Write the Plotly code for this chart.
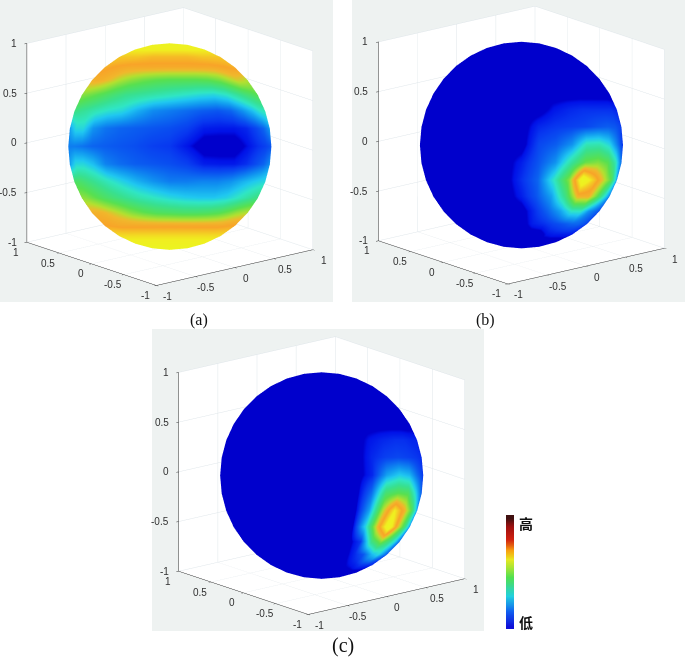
import numpy as np
import plotly.graph_objects as go

W, H = 685, 657
tick_vals = [-1, -0.5, 0, 0.5, 1]
tick_text = ["-1", "-0.5", "0", "0.5", "1"]

# view-aligned grid: rows by screen latitude, columns by screen longitude (degrees)
beta_deg = [90, 80, 70, 60, 50, 40, 30, 20, 10, 0, -10, -20, -30, -40, -50, -60, -70, -80, -90]
gamma_deg = [-90, -80, -70, -60, -50, -40, -30, -20, -10, 0, 10, 20, 30, 40, 50, 60, 70, 80, 90]

# panel (a): values, one row per beta
a_values = [
    [.92]*19,
    [.90]*19,
    [.86]*19,
    [.78, .78, .78, .78, .78, .78, .77, .76, .76, .76, .76, .76, .77, .78, .78, .78, .78, .78, .78],
    [.74, .74, .73, .72, .71, .70, .70, .70, .70, .70, .70, .70, .70, .70, .71, .72, .73, .74, .74],
    [.68, .68, .69, .68, .65, .60, .56, .53, .51, .50, .50, .50, .51, .54, .59, .63, .62, .60, .60],
    [.55, .55, .54, .52, .49, .45, .41, .39, .37, .35, .33, .31, .30, .33, .39, .44, .47, .49, .50],
    [.42, .42, .40, .38, .35, .32, .30, .24, .19, .17, .15, .13, .12, .14, .20, .26, .32, .34, .35],
    [.20, .24, .30, .30, .20, .16, .14, .13, .12, .11, .09, .05, .045, .045, .06, .10, .14, .19, .22],
    [.17, .17, .17, .16, .14, .13, .12, .11, .09, .08, .04, .00, .00, .00, .035, .07, .09, .11, .12],
    [.20, .24, .30, .30, .26, .18, .15, .13, .12, .11, .09, .05, .045, .045, .07, .11, .14, .18, .20],
    [.46, .47, .46, .43, .39, .34, .29, .24, .20, .17, .17, .18, .18, .20, .24, .27, .29, .30, .30],
    [.56, .56, .55, .52, .48, .44, .40, .36, .33, .30, .28, .27, .27, .29, .33, .37, .40, .42, .42],
    [.68, .68, .68, .67, .64, .60, .55, .51, .48, .47, .46, .46, .47, .49, .53, .57, .59, .60, .60],
    [.72, .72, .72, .71, .70, .70, .70, .70, .70, .70, .70, .70, .70, .70, .70, .71, .72, .72, .72],
    [.82]*19,
    [.88]*19,
    [.92]*19,
    [.92]*19,
]

# panels (b), (c): zero everywhere except these read-off hot patches
hot_betas = [20, 10, 0, -10, -20, -30, -40, -50, -60]
b_gammas = [-10, 0, 10, 20, 30, 40, 50, 60, 70, 80, 90]
b_hot = [
    [0, 0, 0, .04, .06, .07, .07, .07, .07, .06, .06],
    [0, 0, .06, .08, .09, .10, .12, .13, .12, .10, .08],
    [0, 0, .10, .13, .20, .35, .36, .30, .18, .10, .08],
    [0, .05, .12, .20, .38, .52, .55, .50, .36, .20, .15],
    [0, .07, .14, .33, .55, .95, .78, .62, .50, .30, .20],
    [0, .05, .12, .22, .42, .68, .68, .50, .33, .22, .18],
    [0, 0, .07, .14, .22, .33, .33, .20, .15, .12, .10],
    [0, 0, .05, .07, .10, .12, .14, .14, .12, .10, .08],
    [0, 0, 0, 0, .04, .05, .05, .05, .05, .04, .04],
]
c_gammas = [20, 30, 40, 50, 60, 70, 80, 90]
c_hot = [
    [0, .04, .06, .07, .07, .06, .06, .05],
    [0, .06, .09, .10, .09, .08, .07, .06],
    [0, .06, .22, .28, .25, .15, .10, .08],
    [0, .15, .45, .50, .48, .30, .17, .12],
    [0, .22, .60, .85, .68, .50, .30, .20],
    [0, .30, .68, .95, .65, .45, .28, .20],
    [0, .08, .42, .55, .42, .30, .18, .15],
    [0, .06, .12, .25, .30, .20, .14, .12],
    [0, .03, .05, .08, .08, .07, .06, .05],
]

surface_scale = [
    [0, "#0000cc"], [.025, "#0000cc"], [.035, "#0012e8"], [.08, "#0838f0"], [.12, "#0a58f0"],
    [.2, "#1094f0"], [.27, "#20c8f0"], [.33, "#30e6c4"], [.4, "#38e090"], [.5, "#58e050"],
    [.6, "#b4e030"], [.66, "#f0b82c"], [.72, "#f8a428"], [.85, "#f0ee20"], [1, "#e8fa20"],
]
bar_levels = [0, .05, .1, .15, .2, .25, .3, .35, .4, .45, .5, .55, .6, .65, .7, .75, .8, .85, .9, .95, 1]
bar_scale = [
    [0, "#1010d8"], [.14, "#1060f0"], [.28, "#20d0e0"], [.45, "#50e050"], [.62, "#e8e820"],
    [.7, "#f8a010"], [.8, "#d02010"], [.92, "#a01010"], [1, "#401010"],
]

eye_dir = np.array([-0.612, -0.74, 0.276])
EYE_DIST = 2.0
ASPECT = dict(x=1.345, y=1.345, z=1.37)
PANEL_BG = "#eef2f1"
TEXT = "#303030"
panels = [(0, 333, 0, 302), (352, 685, 0, 302), (152, 484, 329, 631)]
shifts = [(4.5, 6), (4, 8), (5, 6)]

e = eye_dir / np.linalg.norm(eye_dir)
r = np.cross([0, 0, 1], e); r = r / np.linalg.norm(r)
u = np.cross(e, r)

bb, gg = np.meshgrid(np.radians(beta_deg), np.radians(gamma_deg), indexing="ij")
su, sv, sw = np.cos(bb) * np.sin(gg), np.sin(bb), np.cos(bb) * np.cos(gg)
sx = su * r[0] + sv * u[0] + sw * e[0]
sy = su * r[1] + sv * u[1] + sw * e[1]
sz = su * r[2] + sv * u[2] + sw * e[2]


def with_patch(patch, gammas):
    z = np.zeros((len(beta_deg), len(gamma_deg)))
    for i, b in enumerate(hot_betas):
        for j, g in enumerate(gammas):
            z[beta_deg.index(b), gamma_deg.index(g)] = patch[i][j]
    return z


def tick_note(x, y, z, text, xshift, yshift, anchor="center"):
    return dict(x=x, y=y, z=z, text=text, showarrow=False, xanchor=anchor, yanchor="middle",
                xshift=xshift, yshift=yshift,
                font=dict(family="Liberation Sans", size=10, color=TEXT))


tick_notes = []
for v, t in zip(tick_vals, tick_text):
    tick_notes.append(tick_note(-1, 1, v, t, -8, 0, "right"))
    tick_notes.append(tick_note(-1, v, -1, t, -11, -10))
    tick_notes.append(tick_note(v, -1, -1, t, 11, -11))

fields = [np.array(a_values), with_patch(b_hot, b_gammas), with_patch(c_hot, c_gammas)]

fig = go.Figure()
layout = {}
for i, (field, (x0, x1, y0, y1), (dx, dy)) in enumerate(zip(fields, panels, shifts)):
    name = "scene" if i == 0 else f"scene{i + 1}"
    fig.add_trace(go.Surface(
        x=sx, y=sy, z=sz, surfacecolor=field, colorscale=surface_scale, cmin=0, cmax=1,
        showscale=False, hoverinfo="skip", scene=name,
        lighting=dict(ambient=1, diffuse=0, specular=0, roughness=1, fresnel=0),
    ))
    axis = dict(
        range=[-1, 1], tickvals=tick_vals, ticktext=tick_text, title=dict(text=""),
        showticklabels=False,
        showgrid=True, gridcolor="#dfe6ea", gridwidth=1, showline=True, linecolor=TEXT,
        linewidth=1, ticks="outside", ticklen=3, tickcolor=TEXT, showbackground=True,
        backgroundcolor="white", zeroline=False, showspikes=False, autorange=False,
    )
    center = -(dx * r + dy * u) / 204.0
    eye = center + e * EYE_DIST
    layout[name] = dict(
        domain=dict(x=[x0 / W, x1 / W], y=[1 - y1 / H, 1 - y0 / H]),
        bgcolor=PANEL_BG, aspectmode="manual", aspectratio=ASPECT,
        xaxis=axis, yaxis=axis, zaxis=axis, dragmode=False,
        annotations=tick_notes,
        camera=dict(projection=dict(type="orthographic"), up=dict(x=0, y=0, z=1),
                    center=dict(x=center[0], y=center[1], z=center[2]),
                    eye=dict(x=eye[0], y=eye[1], z=eye[2])),
    )

fig.add_trace(go.Heatmap(
    x=[0, 1], y=bar_levels, z=[[v, v] for v in bar_levels], zmin=0, zmax=1,
    colorscale=bar_scale, showscale=False, hoverinfo="skip", zsmooth="best",
    xaxis="x", yaxis="y",
))
layout["xaxis"] = dict(domain=[506 / W, 514 / W], visible=False, fixedrange=True)
layout["yaxis"] = dict(domain=[1 - 629 / H, 1 - 515 / H], visible=False, fixedrange=True)


def label(text, px, py, size, family="Liberation Serif", weight=None, color="#111111"):
    return dict(text=text if weight is None else f"<b>{text}</b>", x=px / W, y=1 - py / H,
                xref="paper", yref="paper", showarrow=False, xanchor="center", yanchor="middle",
                font=dict(family=family, size=size, color=color))


layout["annotations"] = [
    label("(a)", 199, 320, 16), label("(b)", 485, 320, 16), label("(c)", 343, 645, 20),
    label("高", 526, 523, 14, "Noto Sans CJK SC", True),
    label("低", 526, 622, 14, "Noto Sans CJK SC", True),
]
fig.update_layout(width=W, height=H, margin=dict(l=0, r=0, t=0, b=0), paper_bgcolor="white",
                  plot_bgcolor="white", showlegend=False, **layout)
fig.write_html("out.html", post_script="document.body.style.margin='0';",
               config=dict(displayModeBar=False))
